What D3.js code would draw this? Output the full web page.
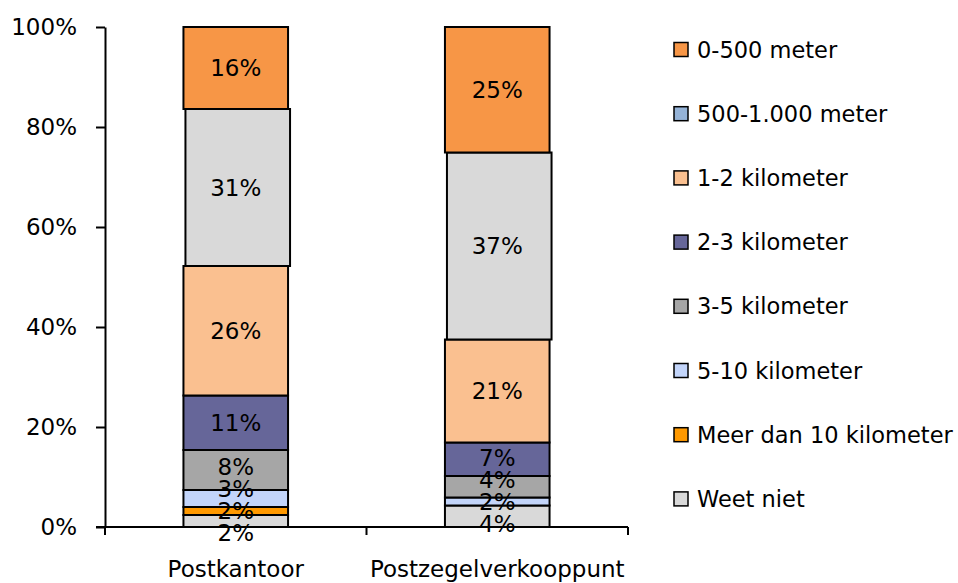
<!DOCTYPE html>
<html>
<head>
<meta charset="utf-8">
<script src="https://cdn.jsdelivr.net/npm/d3@7"></script>
<style>
  body { margin: 0; background: #fff; }
  text { font-family: "DejaVu Sans", Verdana, sans-serif; fill: #000; }
</style>
</head>
<body>
<div id="chart"></div>
<script>
// data, bottom of the stack first
const categories = ["Postkantoor", "Postzegelverkooppunt"];
const seriesNames = ["Weet niet", "Meer dan 10 kilometer", "5-10 kilometer", "3-5 kilometer",
                     "2-3 kilometer", "1-2 kilometer", "500-1.000 meter", "0-500 meter"];
const postkantoor = [2.4, 1.6, 3.4, 8.0, 10.9, 25.9, 31.4, 16.4];
const postzegel   = [4.3, 0.0, 1.6, 4.3, 6.7, 20.6, 37.4, 25.1];
const yTicks = [0, 20, 40, 60, 80, 100];

// the bar fill of "500-1.000 meter" is grey in the original, the legend swatch is blue
const barColors    = ["#D9D9D9", "#FF9900", "#C3D5FA", "#A6A6A6", "#666699", "#FAC090", "#D9D9D9", "#F79646"];
const legendColors = ["#D9D9D9", "#FF9900", "#C3D5FA", "#A6A6A6", "#666699", "#FAC090", "#95B3D7", "#F79646"];

const width = 958, height = 583;
const fontSize = 23;

const svg = d3.select("#chart").append("svg")
  .attr("width", width)
  .attr("height", height);

const rows = categories.map((c, i) => {
  const r = { cat: c };
  const vals = i === 0 ? postkantoor : postzegel;
  seriesNames.forEach((s, j) => r[s] = vals[j]);
  return r;
});

const stacked = d3.stack().keys(seriesNames)(rows);

const x = d3.scaleBand().domain(categories).range([105, 628]);
const y = d3.scaleLinear().domain([0, 100]).range([527, 27]);
const barW = x.bandwidth() * 0.4;

// bars
const layers = svg.append("g").selectAll("g")
  .data(stacked)
  .join("g")
    .attr("fill", (d, i) => barColors[i]);

layers.selectAll("rect")
  .data(d => d.map(p => ({ p, key: d.key })))
  .join("rect")
    .filter(d => d.p[1] - d.p[0] > 0)
    .attr("x", d => x(d.p.data.cat) + (x.bandwidth() - barW) / 2 + (d.key === "500-1.000 meter" ? 2 : 0))
    .attr("y", d => y(d.p[1]))
    .attr("width", barW)
    .attr("height", d => y(d.p[0]) - y(d.p[1]))
    .attr("stroke", "#000")
    .attr("stroke-width", 2);

// axes
const yAxis = svg.append("g")
  .attr("transform", "translate(105,0)")
  .call(d3.axisLeft(y).tickValues(yTicks).tickFormat(d => d + "%").tickSize(9).tickSizeOuter(0).tickPadding(19));
yAxis.selectAll("text").style("font-size", fontSize + "px").attr("font-family", null);
yAxis.selectAll("path, line").attr("stroke", "#000").attr("stroke-width", 2);

const xAxis = svg.append("g");
xAxis.append("line")
  .attr("x1", 96).attr("x2", x.range()[1])
  .attr("y1", y(0)).attr("y2", y(0))
  .attr("stroke", "#000").attr("stroke-width", 2);
xAxis.selectAll("line.tick")
  .data(categories.map(c => x(c)).concat([x.range()[1]]))
  .join("line")
    .attr("class", "tick")
    .attr("x1", d => d).attr("x2", d => d)
    .attr("y1", y(0)).attr("y2", y(0) + 8)
    .attr("stroke", "#000").attr("stroke-width", 2);
xAxis.selectAll("text")
  .data(categories)
  .join("text")
    .attr("x", d => x(d) + x.bandwidth() / 2)
    .attr("y", 577)
    .attr("text-anchor", "middle")
    .style("font-size", fontSize + "px")
    .text(d => d);

// data labels, pushed apart where segments are too thin
const fmt = v => d3.format(".0f")(v) + "%";
const gap = 22;
categories.forEach(cat => {
  const labels = [];
  stacked.forEach(layer => {
    const p = layer.find(q => q.data.cat === cat);
    const v = p[1] - p[0];
    if (v > 0) labels.push({ v, yc: y((p[0] + p[1]) / 2) });
  });
  labels.sort((a, b) => a.yc - b.yc);
  for (let it = 0; it < 200; it++) {
    for (let k = 1; k < labels.length; k++) {
      const d = labels[k].yc - labels[k - 1].yc;
      if (d < gap) {
        const s = (gap - d) / 2;
        labels[k - 1].yc -= s;
        labels[k].yc += s;
      }
    }
  }
  svg.append("g").selectAll("text")
    .data(labels)
    .join("text")
      .attr("x", x(cat) + x.bandwidth() / 2)
      .attr("y", d => d.yc)
      .attr("dy", "0.36em")
      .attr("text-anchor", "middle")
      .style("font-size", fontSize + "px")
      .text(d => fmt(d.v));
});

// legend, top series first
const legend = svg.append("g").selectAll("g")
  .data(seriesNames.map((s, i) => ({ s, c: legendColors[i] })).reverse())
  .join("g")
    .attr("transform", (d, i) => `translate(674,${49.5 + i * 64.2})`);
legend.append("rect")
  .attr("x", 0).attr("y", -7)
  .attr("width", 14).attr("height", 14)
  .attr("fill", d => d.c)
  .attr("stroke", "#000").attr("stroke-width", 1.5);
legend.append("text")
  .attr("x", 23)
  .attr("dy", "0.36em")
  .style("font-size", "22.5px")
  .text(d => d.s);
</script>
</body>
</html>
